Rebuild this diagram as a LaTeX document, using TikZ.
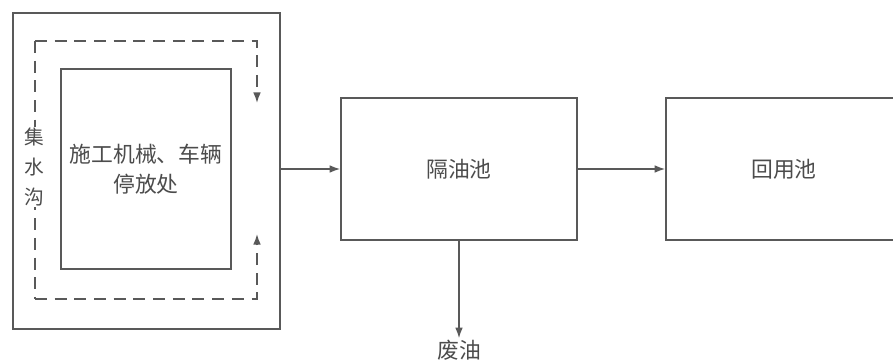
\documentclass[tikz,border=0pt]{standalone}
\usepackage{fontspec}
\setmainfont{Noto Sans CJK SC}
\usetikzlibrary{arrows.meta,positioning,calc}
\tikzset{
  poolbox/.style={draw=black!65, line width=1.1pt, fill=white,
    minimum width=5.9cm, minimum height=3.55cm, align=center, inner sep=2pt,
    text=black!70, font=\fontsize{15.5}{20}\selectfont},
  yardbox/.style={draw=black!65, line width=1.1pt,
    minimum width=6.675cm, minimum height=7.9cm, inner sep=0pt},
  parkbox/.style={draw=black!65, line width=1.1pt, fill=white,
    minimum width=4.25cm, minimum height=5cm, align=center, inner sep=2pt,
    text=black!70, font=\fontsize{15.5}{20}\selectfont},
  ditchtext/.style={fill=white, align=center, inner sep=1pt, text=black!70,
    font=\fontsize{14}{21}\selectfont},
  outtext/.style={text=black!70, inner sep=1pt, font=\fontsize{15.5}{20}\selectfont},
  flow/.style={-{Latex[length=7.5pt,width=5.5pt]}, draw=black!65, line width=1.1pt},
  dashflow/.style={-{Latex[length=7.5pt,width=5.5pt]}, draw=black!65, line width=1.1pt,
    dash pattern=on 8.5pt off 5.5pt},
  dashline/.style={draw=black!65, line width=1.1pt, dash pattern=on 8.5pt off 5.5pt}
}

\begin{document}
\begin{tikzpicture}[x=0.025cm, y=-0.025cm]
  \useasboundingbox (0,0) rectangle (893,360);
  \node[yardbox] (yard) at (146.5,171) {};
  \coordinate (dtl) at (35,41);
  \coordinate (dtr) at (257,41);
  \coordinate (dbl) at (35,299);
  \coordinate (dbr) at (257,299);
  \coordinate (ddown) at (257,103);
  \coordinate (dup) at (257,234);
  \draw[dashline] (dtl) -- (dbl);
  \draw[dashflow] (dtl) -- (dtr) -- (ddown);
  \draw[dashflow] (dbl) -- (dbr) -- (dup);
  \node[ditchtext] (ditch) at (34,167) {集\\水\\沟};
  \node[parkbox] (park) at (146,169) {施工机械、车辆\\[1pt]停放处};

  \node[poolbox] (oil) at (459,169) {隔油池};
  \node[poolbox] (reuse) at (784,169) {回用池};
  \node[outtext] (waste) at (459,350) {废油};

  \draw[flow] (yard.east |- oil.west) -- (oil.west);
  \draw[flow] (oil) -- (reuse);
  \draw[flow] (oil.south) -- (waste.north);
\end{tikzpicture}
\end{document}
